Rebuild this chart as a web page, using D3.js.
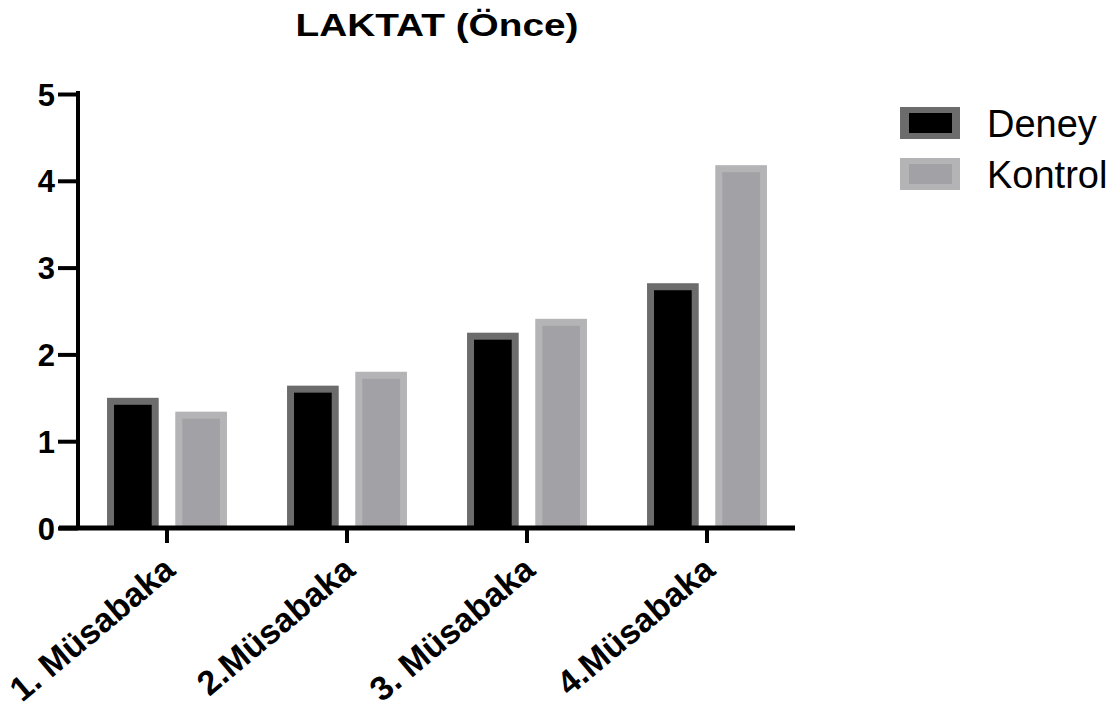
<!DOCTYPE html>
<html>
<head>
<meta charset="utf-8">
<script src="https://cdn.jsdelivr.net/npm/d3@7"></script>
<style>
  html, body { margin: 0; padding: 0; background: #fff; }
  svg { display: block; }
  text { font-family: "Liberation Sans", Arial, sans-serif; fill: #000; }
</style>
</head>
<body>
<svg id="chart" width="1115" height="713"></svg>
<script>
const title = "LAKTAT (Önce)";
const categories = ["1. Müsabaka", "2.Müsabaka", "3. Müsabaka", "4.Müsabaka"];
const seriesNames = ["Deney", "Kontrol"];
const deneyValues = [1.50, 1.64, 2.25, 2.82];
const kontrolValues = [1.34, 1.80, 2.41, 4.18];
const yTicks = [0, 1, 2, 3, 4, 5];

const seriesValues = [deneyValues, kontrolValues];
const outerColors = ["#6c6c6c", "#b4b4b6"];
const innerColors = ["#000000", "#a2a2a6"];

const svg = d3.select("#chart");

const x = d3.scaleBand().domain(categories).range([77, 797]).paddingInner(0).paddingOuter(0);
const xSub = d3.scaleBand().domain(seriesNames).range([0, x.bandwidth()]).paddingInner(0.243).paddingOuter(0.44);
const y = d3.scaleLinear().domain([0, 5]).range([528, 94]);

// Title
svg.append("text")
  .attr("x", 437).attr("y", 36)
  .attr("text-anchor", "middle")
  .attr("font-size", 31).attr("font-weight", "bold")
  .attr("textLength", 283).attr("lengthAdjust", "spacingAndGlyphs")
  .text(title);

// Bars
const groups = svg.append("g").selectAll("g")
  .data(categories)
  .join("g")
  .attr("transform", d => `translate(${x(d)},0)`);

seriesNames.forEach((s, si) => {
  groups.append("rect")
    .attr("x", xSub(s))
    .attr("y", (d, i) => y(seriesValues[si][i]))
    .attr("width", xSub.bandwidth())
    .attr("height", (d, i) => y(0) - y(seriesValues[si][i]))
    .attr("fill", outerColors[si]);
  groups.append("rect")
    .attr("x", xSub(s) + 7)
    .attr("y", (d, i) => y(seriesValues[si][i]) + 7)
    .attr("width", xSub.bandwidth() - 14)
    .attr("height", (d, i) => Math.max(0, y(0) - y(seriesValues[si][i]) - 7))
    .attr("fill", innerColors[si]);
});

// Y axis
const yAxis = svg.append("g")
  .attr("transform", `translate(78,0)`)
  .call(d3.axisLeft(y).tickValues(yTicks).tickSize(20).tickSizeOuter(0).tickPadding(3).tickFormat(d3.format("d")));
yAxis.select(".domain").attr("stroke", "#000").attr("stroke-width", 4)
  .attr("d", `M0,${y(5) - 3}V${y(0) + 2}`);
yAxis.selectAll(".tick line").attr("stroke", "#000").attr("stroke-width", 4);
yAxis.selectAll(".tick text")
  .attr("font-size", 31).attr("font-weight", "bold")
  .attr("font-family", "'Liberation Sans', Arial, sans-serif")
  .attr("fill", "#000").attr("dy", "0.36em");

// X axis
const xAxis = svg.append("g")
  .attr("transform", `translate(0,${y(0)})`)
  .call(d3.axisBottom(x).tickSize(15).tickSizeOuter(0).tickFormat(""));
xAxis.select(".domain").attr("stroke", "#000").attr("stroke-width", 5)
  .attr("d", `M${x.range()[0] - 18},0H${x.range()[1] - 2}`);
xAxis.selectAll(".tick line").attr("stroke", "#000").attr("stroke-width", 4);

// X labels
svg.append("g").selectAll("text")
  .data(categories)
  .join("text")
  .attr("text-anchor", "end")
  .attr("font-size", 34).attr("font-weight", "bold")
  .attr("transform", d => `translate(${x(d) + x.bandwidth() / 2 + 10},573) rotate(-40)`)
  .text(d => d);

// Legend
const legend = svg.append("g").selectAll("g")
  .data(seriesNames)
  .join("g")
  .attr("transform", (d, i) => `translate(900,${107 + i * 51})`);
legend.append("rect").attr("width", 60).attr("height", 32).attr("fill", (d, i) => outerColors[i]);
legend.append("rect").attr("x", 9).attr("y", 6).attr("width", 43).attr("height", 20).attr("fill", (d, i) => innerColors[i]);
legend.append("text")
  .attr("x", 87).attr("y", 30)
  .attr("font-size", 38)
  .text(d => d);
</script>
</body>
</html>
